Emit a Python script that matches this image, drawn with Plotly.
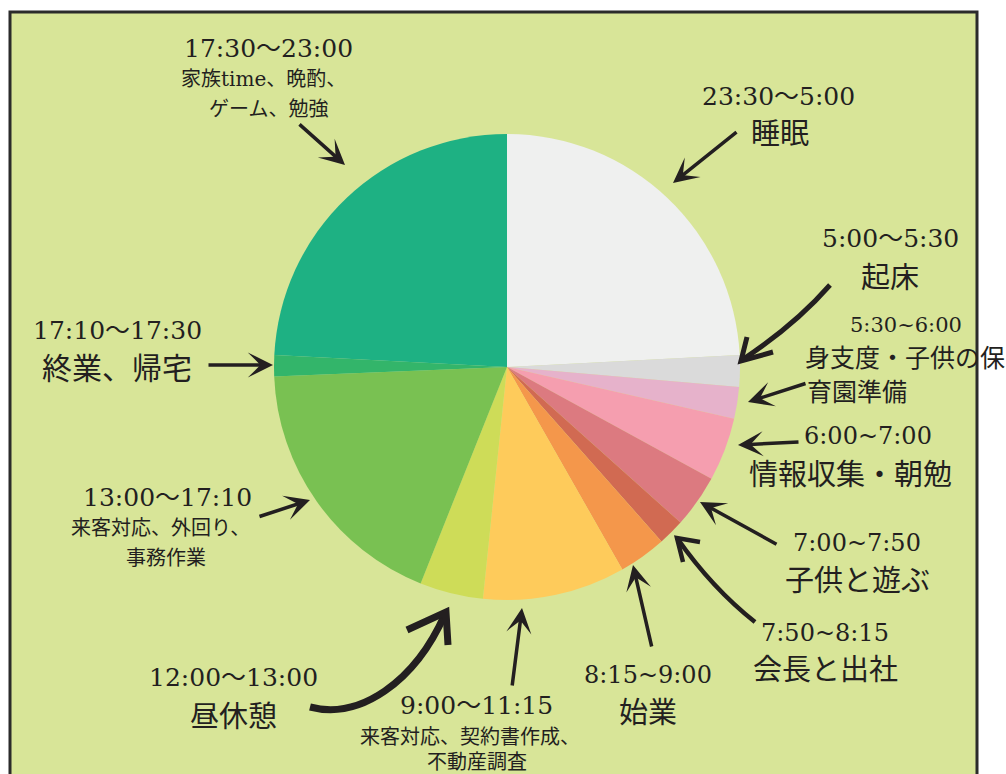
import plotly.graph_objects as go

W, H = 1006, 774

# One day, slice by slice, clockwise from the top
time_ranges = ["23:30〜5:00", "5:00〜5:30", "5:30~6:00", "6:00~7:00", "7:00~7:50",
               "7:50~8:15", "8:15~9:00", "9:00〜11:15", "12:00〜13:00",
               "13:00〜17:10", "17:10〜17:30", "17:30〜23:00"]
activity_lines = [["睡眠"], ["起床"], ["身支度・子供の保", "育園準備"], ["情報収集・朝勉"],
                  ["子供と遊ぶ"], ["会長と出社"], ["始業"],
                  ["来客対応、契約書作成、", "不動産調査"], ["昼休憩"],
                  ["来客対応、外回り、", "事務作業"], ["終業、帰宅"],
                  ["家族time、晩酌、", "ゲーム、勉強"]]
minutes = [330, 30, 30, 60, 50, 25, 45, 135, 60, 250, 20, 330]
slice_colors = ["#EFF0EF", "#DADADA", "#E6B2CB", "#F59EAF", "#DC7A80", "#D16A52",
                "#F4974B", "#FECB5B", "#CEDC58", "#79C152", "#33B56A", "#1EB183"]

BG = "#D8E598"
INK = "#231F20"
FONT = "DejaVu Serif, Noto Sans CJK JP, sans-serif"


def px(x):
    return x / W


def py(y):
    return 1 - y / H


# pie placement (pixel centre and radius)
CX, CY, R = 507, 367, 233

fig = go.Figure(go.Pie(
    values=minutes,
    labels=[f"{t} {''.join(a)}" for t, a in zip(time_ranges, activity_lines)],
    marker=dict(colors=slice_colors, line=dict(width=0)),
    sort=False,
    direction="clockwise",
    rotation=0,
    textinfo="none",
    hoverinfo="label+value",
    showlegend=False,
    domain=dict(x=[px(CX - R), px(CX + R)], y=[py(CY + R), py(CY - R)]),
))

# label placement: time line (x, y, size) and activity lines (x, y, size, anchor)
time_pos = [(778, 96, 25), (890, 239, 25), (906, 325, 21), (868, 436, 24),
            (857, 543, 24), (825, 633, 24), (648, 675, 24), (476, 705, 25),
            (233, 677, 25), (167, 497, 25), (117, 330, 25), (268, 48, 25)]
act_pos = [[(780, 134, 29, "center")], [(890, 278, 29, "center")],
           [(803, 358, 25, "left"), (805, 392, 25, "left")],
           [(850, 475, 29, "center")], [(857, 581, 29, "center")],
           [(825, 670, 29, "center")], [(648, 713, 29, "center")],
           [(470, 737, 20, "center"), (477, 762, 20, "center")],
           [(233, 717, 29, "center")],
           [(160, 528, 20, "center"), (166, 558, 20, "center")],
           [(117, 369, 30, "center")],
           [(263, 79, 20, "center"), (268, 109, 20, "center")]]

annotations = []
for t, (tx, ty, ts), lines, poses in zip(time_ranges, time_pos, activity_lines, act_pos):
    annotations.append(dict(x=px(tx), y=py(ty), xref="paper", yref="paper", text=t,
                            showarrow=False, xanchor="center", yanchor="middle",
                            font=dict(family=FONT, size=ts, color=INK)))
    for line, (lx, ly, ls, anc) in zip(lines, poses):
        annotations.append(dict(x=px(lx), y=py(ly), xref="paper", yref="paper", text=line,
                                showarrow=False, xanchor=anc, yanchor="middle",
                                font=dict(family=FONT, size=ls, color=INK)))

# straight pointer arrows: (tail, tip)
straight_arrows = [((738, 131), (673, 183)), ((807, 383), (748, 402)),
                   ((800, 442), (738, 445)), ((778, 545), (700, 502)),
                   ((652, 648), (633, 565)), ((512, 687), (522, 608)),
                   ((258, 517), (310, 500)), ((207, 365), (273, 365)),
                   ((298, 123), (345, 165))]
for (sx, sy), (ex, ey) in straight_arrows:
    annotations.append(dict(x=px(ex), y=py(ey), xref="paper", yref="paper", text="",
                            showarrow=True, ax=sx - ex, ay=sy - ey,
                            arrowhead=3, arrowsize=1.2, arrowwidth=3.5,
                            arrowcolor=INK, standoff=0))


def path(points, cmd):
    parts = []
    for c, pts in zip(cmd, points):
        parts.append(c + " " + " ".join(f"{px(x):.5f},{py(y):.5f}" for x, y in pts))
    return " ".join(parts)


shapes = [
    # framed background panel
    dict(type="rect", xref="paper", yref="paper", x0=px(10), x1=px(977),
         y0=py(800), y1=py(12), fillcolor=BG, line=dict(color="#2B2B2B", width=3),
         layer="below"),
]

# hand-drawn curved arrows: shaft + open chevron head
curved = [
    (["M", "Q"], [[(830, 285)], [(795, 325), (742, 360)]],
     [(747, 337), (741, 361), (773, 352)], 5),
    (["M", "Q"], [[(755, 622)], [(712, 588), (677, 538)]],
     [(700, 542), (677, 538), (683, 562)], 4.5),
    (["M", "C"], [[(310, 707)], [(360, 720), (415, 682), (445, 614)]],
     [(407, 630), (446, 612), (448, 645)], 7),
]
for cmds, pts, head, w in curved:
    shapes.append(dict(type="path", xref="paper", yref="paper", path=path(pts, cmds),
                       line=dict(color=INK, width=w), layer="above"))
    shapes.append(dict(type="path", xref="paper", yref="paper",
                       path=path([[head[0]], [head[1]], [head[2]]], ["M", "L", "L"]),
                       line=dict(color=INK, width=w), layer="above"))

fig.update_layout(
    width=W, height=H,
    margin=dict(l=0, r=0, t=0, b=0),
    paper_bgcolor="white",
    plot_bgcolor="white",
    shapes=shapes,
    annotations=annotations,
)

fig.write_html("out.html", config={"displayModeBar": False})
